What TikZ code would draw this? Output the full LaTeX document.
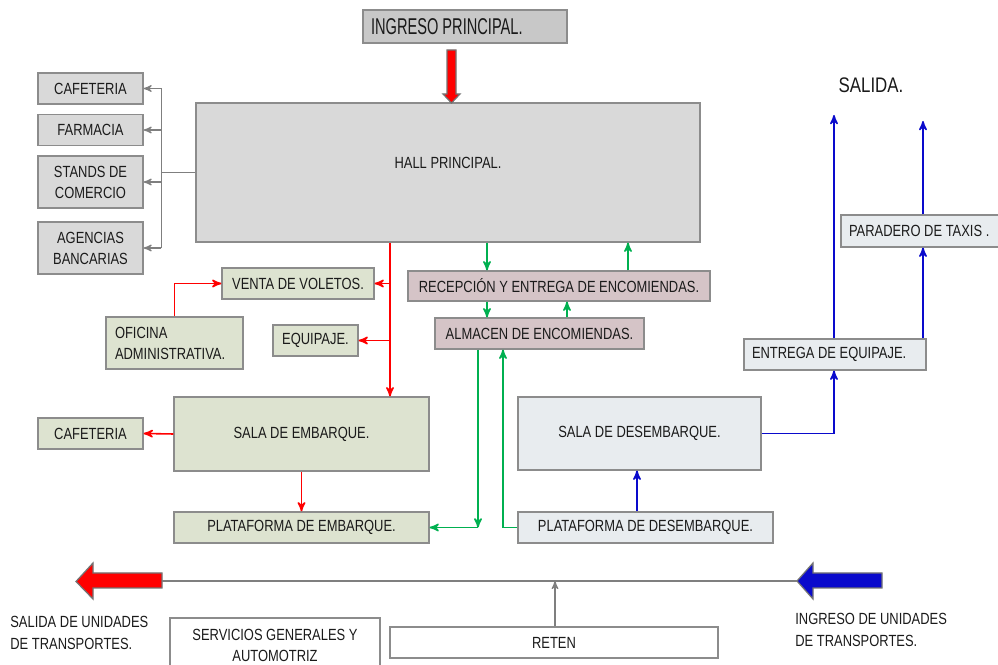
\documentclass[tikz,border=0pt]{standalone}
\usepackage{fontspec}
\setmainfont{Liberation Sans}[FakeStretch=0.8]
\newfontfamily\titulofont{Liberation Sans}[FakeStretch=0.64]
\usepackage{tikz}
\usetikzlibrary{arrows,positioning}
\definecolor{borde}{HTML}{8C8C8C}
\definecolor{texto}{HTML}{1A1A1A}
\definecolor{fondogris}{HTML}{D9D9D9}
\definecolor{fondoingreso}{HTML}{C8C8C8}
\definecolor{fondoverde}{HTML}{DDE3D0}
\definecolor{fondorosa}{HTML}{D5C4C7}
\definecolor{fondoceleste}{HTML}{E8ECEF}
\definecolor{lineaverde}{HTML}{00B050}
\definecolor{lineaazul}{HTML}{0A0ACC}
\definecolor{lineagris}{HTML}{7F7F7F}
\tikzset{
    %Define standard arrow tip
    >=stealth',
    %Define style for boxes
    caja/.style={
           rectangle,
           draw=borde,
           line width=0.7pt,
           inner sep=2pt,
           align=center,
           text=texto,
           font=\fontsize{9.2}{12}\selectfont},
    cajagris/.style={caja, fill=fondogris},
    cajaverde/.style={caja, fill=fondoverde},
    cajarosa/.style={caja, fill=fondorosa},
    cajaceleste/.style={caja, fill=fondoceleste},
    % Define arrow styles
    pilroja/.style={->, draw=red, line width=0.9pt},
    pilverde/.style={->, draw=lineaverde, line width=0.9pt},
    pilazul/.style={->, draw=lineaazul, line width=0.9pt},
    pilgris/.style={->, draw=lineagris, line width=0.7pt},
    % Define style for block arrows
    bloque/.style={draw=black!55, line width=0.7pt, line join=miter}
}

\begin{document}
\begin{tikzpicture}[x=0.02cm, y=-0.02cm]
  \useasboundingbox (0,0) rectangle (998,665);
  % entrance and hall
  \node[caja, fill=fondoingreso, text width=3.76cm, inner xsep=0.16cm, align=flush left, minimum height=0.66cm,
        font=\titulofont\fontsize{13}{15}\selectfont] (ingreso) at (465,26.5) {INGRESO PRINCIPAL.};
  \node[cajagris, minimum width=10.08cm, minimum height=2.78cm] (hall) at (448,172.5)
        {\raisebox{11pt}{HALL PRINCIPAL.}};
  \filldraw[bloque, fill=red] (447,50) -- (456,50) -- (456,94) -- (460,94) -- (451.5,103)
      -- (443,94) -- (447,94) -- cycle;

  % services left of the hall
  \node[cajagris, minimum width=2.1cm, minimum height=0.62cm] (cafe) at (90.5,88.5) {CAFETERIA};
  \node[cajagris, minimum width=2.1cm, minimum height=0.62cm] (farmacia) at (90.5,130) {FARMACIA};
  \node[cajagris, minimum width=2.1cm, minimum height=1.04cm] (stands) at (90.5,182) {STANDS DE\\COMERCIO};
  \node[cajagris, minimum width=2.1cm, minimum height=1.04cm] (agencias) at (90.5,248) {AGENCIAS\\BANCARIAS};
  \draw[draw=lineagris, line width=0.7pt] (hall.west) -- ++(-34,0) coordinate (tronco);
  \draw[draw=lineagris, line width=0.7pt] (tronco |- cafe) -- (tronco |- agencias.east);
  \foreach \destino in {cafe,farmacia,stands,agencias}
    \draw[pilgris] (tronco |- \destino.east) -- (\destino.east);

  % departures
  \node[cajaverde, minimum width=3.04cm, minimum height=0.62cm] (venta) at (298,283.5) {VENTA DE VOLETOS.};
  \node[cajaverde, text width=2.38cm, inner xsep=0.18cm, align=flush left, minimum height=1.04cm] (oficina)
        at (174.5,343) {OFICINA\\ADMINISTRATIVA.};
  \node[cajaverde, minimum width=1.7cm, minimum height=0.62cm] (equipaje) at (315.5,340.5) {EQUIPAJE.};
  \node[cajaverde, minimum width=5.1cm, minimum height=1.48cm] (salaemb) at (301.5,434) {SALA DE EMBARQUE.};
  \node[cajaverde, minimum width=2.1cm, minimum height=0.62cm] (cafe2) at (90.5,433.5) {CAFETERIA};
  \node[cajaverde, minimum width=5.1cm, minimum height=0.62cm] (platemb) at (301.5,527.5) {PLATAFORMA DE EMBARQUE.};
  \coordinate (xroja) at (390,0);
  \draw[pilroja] (xroja |- hall.south) -- (xroja |- salaemb.north);
  \draw[pilroja] (xroja |- venta.east) -- (venta.east);
  \draw[pilroja] (xroja |- equipaje.east) -- (equipaje.east);
  \draw[pilroja] (oficina.north) -- (oficina.north |- venta.west) -- (venta.west);
  \draw[pilroja] (salaemb.west) -- (cafe2.east);
  \draw[pilroja] (salaemb.south) -- (platemb.north);

  % parcels
  \node[cajarosa, minimum width=6.04cm, minimum height=0.6cm] (recepcion) at (559,286)
        {RECEPCIÓN Y ENTREGA DE ENCOMIENDAS.};
  \node[cajarosa, minimum width=4.18cm, minimum height=0.62cm] (almacen) at (539.5,333.5) {ALMACEN DE ENCOMIENDAS.};
  \coordinate (xv1) at (487,0);
  \coordinate (xv2) at (628,0);
  \coordinate (xv3) at (567,0);
  \coordinate (xv4) at (478,0);
  \coordinate (xv5) at (503,0);
  \draw[pilverde] (xv1 |- hall.south) -- (xv1 |- recepcion.north);
  \draw[pilverde] (xv2 |- recepcion.north) -- (xv2 |- hall.south);
  \draw[pilverde] (xv1 |- recepcion.south) -- (xv1 |- almacen.north);
  \draw[pilverde] (xv3 |- almacen.north) -- (xv3 |- recepcion.south);
  \draw[pilverde] (xv4 |- almacen.south) -- (xv4 |- platemb.east);
  \draw[pilverde] (xv4 |- platemb.east) -- (platemb.east);

  % arrivals
  \node[cajaceleste, minimum width=4.86cm, minimum height=1.46cm] (saladesemb) at (639.5,433.5) {SALA DE DESEMBARQUE.};
  \node[cajaceleste, minimum width=5.1cm, minimum height=0.62cm] (platdesemb) at (645.5,527.5) {PLATAFORMA DE DESEMBARQUE.};
  \node[cajaceleste, text width=3.32cm, inner xsep=0.16cm, align=flush left, minimum height=0.62cm] (entrega)
        at (835,354.5) {ENTREGA DE EQUIPAJE.};
  \node[cajaceleste, text width=2.9cm, inner xsep=0.16cm, align=flush left, minimum height=0.64cm] (paradero)
        at (921.5,231) {PARADERO DE TAXIS .};
  \node[text=texto, font=\fontsize{12}{14}\selectfont] (salida) at (871,85) {SALIDA.};
  \draw[pilverde] (platdesemb.west) -- (xv5 |- platdesemb.west) -- (xv5 |- almacen.south);
  \coordinate (xa1) at (637,0);
  \coordinate (xa2) at (834,0);
  \coordinate (xa3) at (923,0);
  \coordinate (fin1) at (834,115);
  \coordinate (fin2) at (923,121);
  \draw[pilazul] (xa1 |- platdesemb.north) -- (xa1 |- saladesemb.south);
  \draw[pilazul] (saladesemb.east) -- (xa2 |- saladesemb.east) -- (xa2 |- entrega.south);
  \draw[pilazul] (xa2 |- entrega.north) -- (fin1);
  \draw[pilazul] (xa3 |- entrega.north) -- (xa3 |- paradero.south);
  \draw[pilazul] (xa3 |- paradero.north) -- (fin2);

  % vehicle lane
  \filldraw[bloque, fill=red] (162,573) -- (93,573) -- (93,563) -- (76,581.5) -- (93,599) -- (93,588)
      -- (162,588) -- cycle;
  \filldraw[bloque, fill=lineaazul] (882,573) -- (813,573) -- (813,563) -- (797,581) -- (813,599) -- (813,588)
      -- (882,588) -- cycle;
  \coordinate (carril) at (162,581);
  \coordinate (entrada) at (797,581);
  \draw[draw=lineagris, line width=1.2pt] (entrada) -- (carril);
  \node[caja, fill=white, minimum width=4.2cm, minimum height=1.08cm] (servicios) at (275,645)
        {SERVICIOS GENERALES Y\\AUTOMOTRIZ};
  \node[caja, fill=white, minimum width=6.56cm, minimum height=0.62cm] (reten) at (554,642.5) {RETEN};
  \draw[pilgris] (reten.north -| 555,0) -- (555,581);
  \node[text=texto, align=left, anchor=north west, inner sep=0pt, font=\fontsize{9.2}{12.5}\selectfont]
        (salidaunid) at (10,616) {SALIDA DE UNIDADES\\DE TRANSPORTES.};
  \node[text=texto, align=left, anchor=north west, inner sep=0pt, font=\fontsize{9.2}{12.5}\selectfont]
        (ingresounid) at (795,613) {INGRESO DE UNIDADES\\DE TRANSPORTES.};
\end{tikzpicture}
\end{document}
